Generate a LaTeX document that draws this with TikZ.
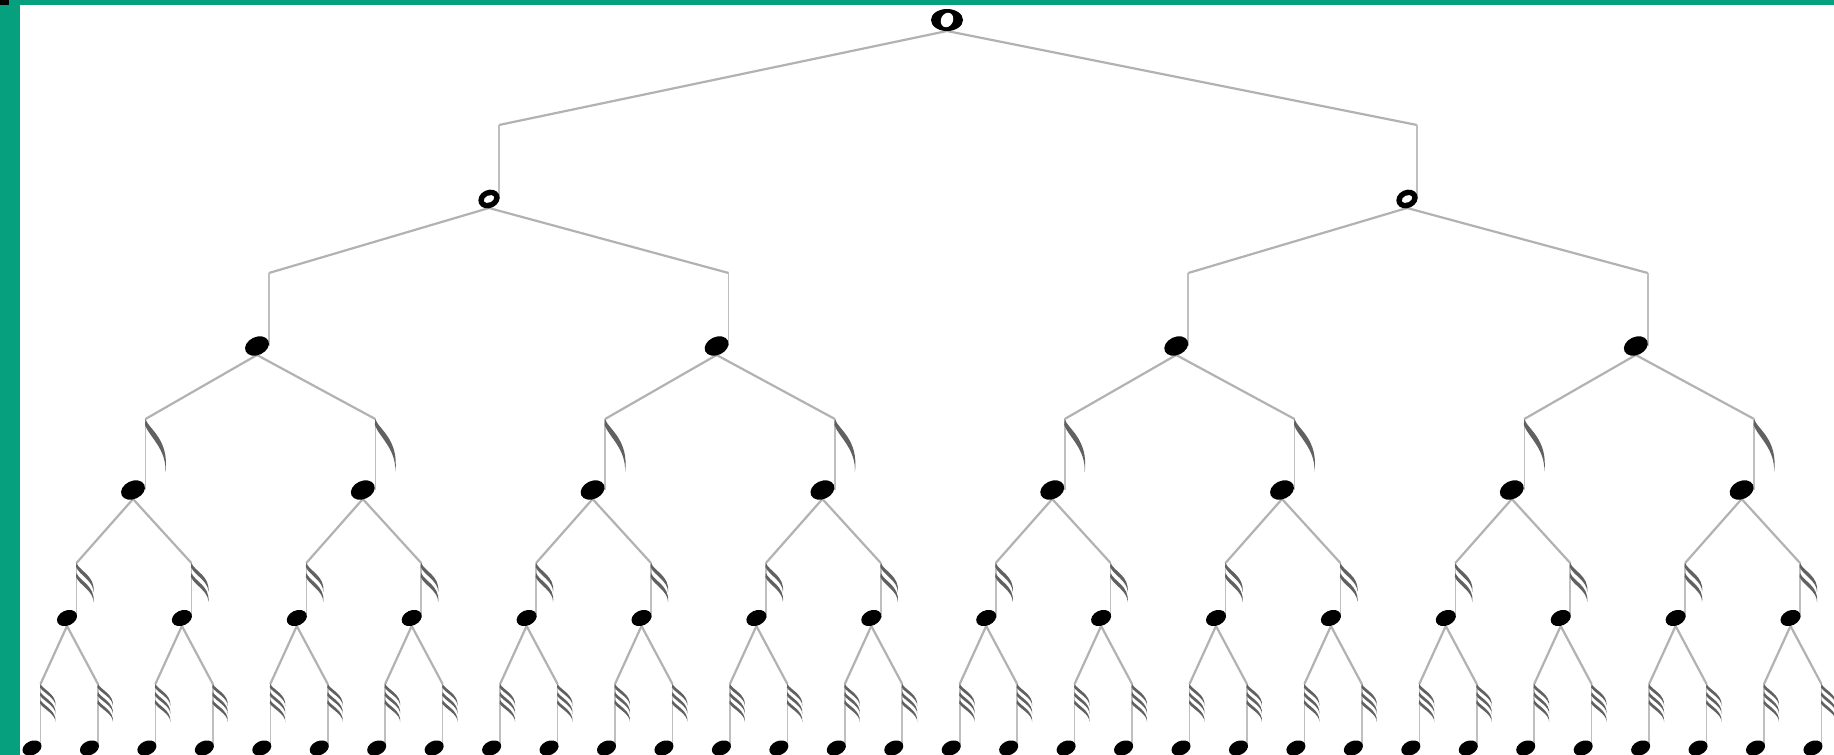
\documentclass[tikz,border=0pt]{standalone}
\definecolor{frame}{RGB}{6,160,126}
\tikzset{
  conn/.style={draw=black!30, line width=2.2pt},
  stemline/.style={draw=black!25, line width=1.6pt},
  headfill/.style={fill=black},
  flagfill/.style={fill=black!62},
  eighthflag/.pic={\fill[flagfill] (0,0) .. controls (3,10) and (24,20) .. (20,53) .. controls (21,30) and (4,18) .. (-0.5,6) -- cycle;},
  sixteenthflag/.pic={\foreach \d in {0,10}{\fill[flagfill] (0,\d) .. controls (3,\d+8) and (19,\d+13) .. (17,\d+29) .. controls (17,\d+18) and (3,\d+12) .. (-0.5,\d+4) -- cycle;}},
  tsflag/.pic={\foreach \d in {0,8,16}{\fill[flagfill] (0,\d) .. controls (3,\d+6) and (16,\d+10) .. (15,\d+22) .. controls (15,\d+14) and (3,\d+9) .. (-0.5,\d+3.5) -- cycle;}}
}
\begin{document}
\begin{tikzpicture}[x=1pt,y=-1pt]
\useasboundingbox (0,0) rectangle (1834,755);
\clip (0,0) rectangle (1834,755);
\fill[white] (0,0) rectangle (1834,755);
% frame
\fill[frame] (0,0) rectangle (1834,5);
\fill[frame] (0,0) rectangle (20,755);
\fill[black] (0,0) rectangle (9,5);
% ---- coordinates
\coordinate (h-0) at (947,20);
\coordinate (b-0) at (947,31);
\foreach \n in {0,1}{
  \pgfmathsetmacro\hx{489+918*\n}
  \coordinate (h-1-\n) at (\hx,199);
  \coordinate (b-1-\n) at (\hx,208);
  \coordinate (t-1-\n) at (\hx+10,125);
}
\foreach \m in {0,...,3}{
  \pgfmathsetmacro\hx{257+459.6*\m}
  \coordinate (h-2-\m) at (\hx,346);
  \coordinate (b-2-\m) at (\hx,355);
  \coordinate (t-2-\m) at (\hx+12,273);
}
\foreach \i in {0,...,7}{
  \pgfmathsetmacro\hx{133+229.8*\i}
  \coordinate (h-3-\i) at (\hx,490);
  \coordinate (b-3-\i) at (\hx,499);
  \coordinate (t-3-\i) at (\hx+12.5,419);
}
\foreach \j in {0,...,15}{
  \pgfmathsetmacro\hx{67+114.9*\j}
  \coordinate (h-4-\j) at (\hx,618);
  \coordinate (b-4-\j) at (\hx,626);
  \coordinate (t-4-\j) at (\hx+9.5,563);
}
\foreach \k in {0,...,31}{
  \pgfmathsetmacro\hx{32+57.45*\k}
  \coordinate (h-5-\k) at (\hx,748);
  \coordinate (t-5-\k) at (\hx+8.5,684);
}
% ---- connectors
\draw[conn] (b-0) -- (t-1-0);
\draw[conn] (b-0) -- (t-1-1);
\foreach \p in {0,1}{
  \pgfmathtruncatemacro\ca{2*\p}\pgfmathtruncatemacro\cb{2*\p+1}
  \draw[conn] (b-1-\p) -- (t-2-\ca);
  \draw[conn] (b-1-\p) -- (t-2-\cb);
}
\foreach \p in {0,...,3}{
  \pgfmathtruncatemacro\ca{2*\p}\pgfmathtruncatemacro\cb{2*\p+1}
  \draw[conn] (b-2-\p) -- (t-3-\ca);
  \draw[conn] (b-2-\p) -- (t-3-\cb);
}
\foreach \p in {0,...,7}{
  \pgfmathtruncatemacro\ca{2*\p}\pgfmathtruncatemacro\cb{2*\p+1}
  \draw[conn] (b-3-\p) -- (t-4-\ca);
  \draw[conn] (b-3-\p) -- (t-4-\cb);
}
\foreach \p in {0,...,15}{
  \pgfmathtruncatemacro\ca{2*\p}\pgfmathtruncatemacro\cb{2*\p+1}
  \draw[conn] (b-4-\p) -- (t-5-\ca);
  \draw[conn] (b-4-\p) -- (t-5-\cb);
}
% ---- notes
% whole note
\fill[headfill] (h-0) ellipse [x radius=16pt, y radius=11pt];
\fill[white, rotate around={-25:(h-0)}] (h-0) ellipse [x radius=6pt, y radius=7.5pt];
% half notes
\foreach \n in {0,1}{
  \draw[stemline] (t-1-\n) -- (t-1-\n |- h-1-\n);
  \fill[headfill, rotate around={25:(h-1-\n)}] (h-1-\n) ellipse [x radius=11pt, y radius=9pt];
  \fill[white, rotate around={25:(h-1-\n)}] (h-1-\n) ellipse [x radius=5.5pt, y radius=3.5pt];
}
% quarter notes
\foreach \m in {0,...,3}{
  \draw[stemline] (t-2-\m) -- (t-2-\m |- h-2-\m);
  \fill[headfill, rotate around={25:(h-2-\m)}] (h-2-\m) ellipse [x radius=12.5pt, y radius=9pt];
}
% eighth notes
\foreach \i in {0,...,7}{
  \draw[stemline] (t-3-\i) -- (t-3-\i |- h-3-\i);
  \pic at (t-3-\i) {eighthflag};
  \fill[headfill, rotate around={25:(h-3-\i)}] (h-3-\i) ellipse [x radius=12.5pt, y radius=9pt];
}
% sixteenth notes
\foreach \j in {0,...,15}{
  \draw[stemline] (t-4-\j) -- (t-4-\j |- h-4-\j);
  \pic at (t-4-\j) {sixteenthflag};
  \fill[headfill, rotate around={25:(h-4-\j)}] (h-4-\j) ellipse [x radius=10.5pt, y radius=7.5pt];
}
% thirty-second notes
\foreach \k in {0,...,31}{
  \draw[stemline] (t-5-\k) -- (t-5-\k |- h-5-\k);
  \pic at (t-5-\k) {tsflag};
  \fill[headfill, rotate around={25:(h-5-\k)}] (h-5-\k) ellipse [x radius=10pt, y radius=7pt];
}
\end{tikzpicture}
\end{document}
